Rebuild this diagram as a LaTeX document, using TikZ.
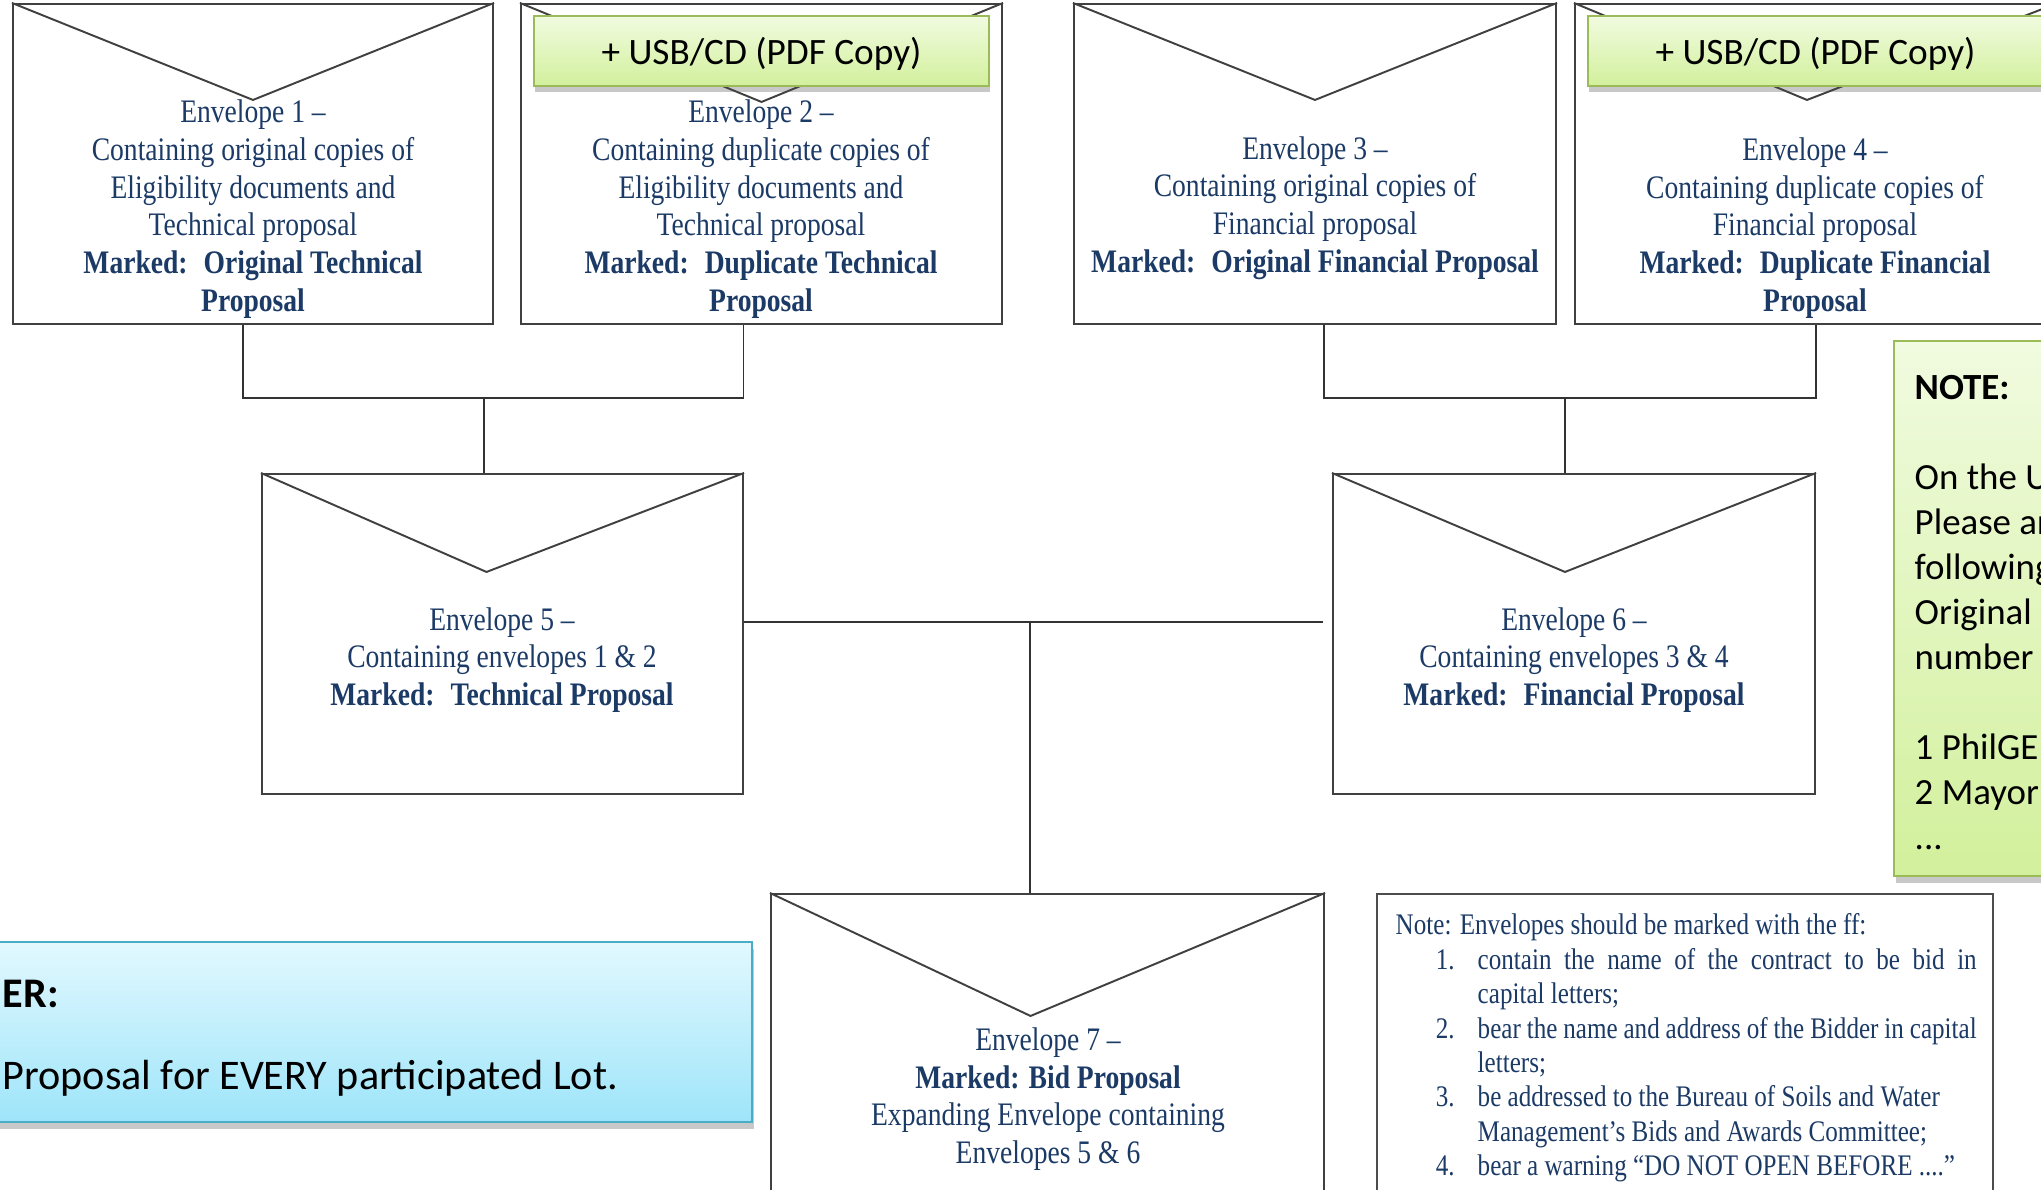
\documentclass[tikz,border=0pt]{standalone}
\usepackage{xcolor}
\usepackage{tikz}
\usepackage{fontspec}
\usetikzlibrary{calc,shadows}
\newfontfamily\envfont[FakeStretch=0.84]{Liberation Serif}
\newfontfamily\calfont{Carlito}
\definecolor{navy}{HTML}{1B3A66}
\definecolor{usbline}{HTML}{9BBB59}
\definecolor{usbtop}{HTML}{F1FBE0}
\definecolor{usbbot}{HTML}{D2F09C}
\definecolor{cyanline}{HTML}{4BACC6}
\definecolor{cyantop}{HTML}{E2F8FE}
\definecolor{cyanbot}{HTML}{9EE5FA}
% righe della nota numerate
\newcommand{\notenum}[2]{\hspace*{0.43cm}\makebox[0.16cm][r]{#1}\hspace{0.23cm}#2}
\newcommand{\notecont}[1]{\hspace*{0.82cm}#1}
\newcommand{\notejust}[1]{\makebox[4.99cm][s]{#1}}

\begin{document}
\begin{tikzpicture}[
        envbox/.style={draw=black!75, line width=0.6pt, minimum height=3.2cm, inner sep=0pt},
        flapline/.style={draw=black!75, line width=0.55pt},
        wire/.style={draw=black!80, line width=0.55pt},
        envtext/.style={text=navy, align=center, inner sep=0pt, font=\envfont\fontsize{9.34}{10.74}\selectfont},
        usbbox/.style={draw=usbline, line width=0.8pt, top color=usbtop, bottom color=usbbot,
            minimum width=4.55cm, minimum height=0.70cm, inner sep=0pt, text depth=0pt,
            font=\calfont\fontsize{10.6}{12.8}\selectfont,
            drop shadow={shadow xshift=0.01cm, shadow yshift=-0.06cm, opacity=0.3, fill=black!70}},
        greenbox/.style={draw=usbline, line width=0.8pt, top color=usbtop, bottom color=usbbot,
            inner sep=0pt,
            drop shadow={shadow xshift=0.02cm, shadow yshift=-0.07cm, opacity=0.3, fill=black!70}},
        cyanbox/.style={draw=cyanline, line width=0.8pt, top color=cyantop, bottom color=cyanbot,
            inner sep=0pt,
            drop shadow={shadow xshift=0.02cm, shadow yshift=-0.07cm, opacity=0.3, fill=black!70}},
    ]
        % Area del disegno
        \useasboundingbox (0,0) rectangle (20.41,-11.89);
        \fill[white] (0,0) rectangle (20.41,-11.89);
        \clip (0,0) rectangle (20.41,-11.89);

        % Buste in alto
        \node[envbox, minimum width=4.80cm] (env1) at (2.53,-1.64) {};
        \node[envbox, minimum width=4.81cm] (env2) at (7.615,-1.64) {};
        \node[envbox, minimum width=4.82cm] (env3) at (13.15,-1.64) {};
        \node[envbox, minimum width=4.82cm] (env4) at (18.16,-1.64) {};
        % Buste intermedie
        \node[envbox, minimum width=4.81cm] (env5) at (5.025,-6.34) {};
        \node[envbox, minimum width=4.82cm] (env6) at (15.74,-6.34) {};
        % Busta finale
        \node[envbox, minimum width=5.53cm] (env7) at (10.475,-10.54) {};

        % Linguette
        \draw[flapline] (env1.north west) -- ($(env1.north)+(0,-0.97)$) -- (env1.north east);
        \draw[flapline] (env2.north west) -- ($(env2.north)+(0,-0.99)$) -- (env2.north east);
        \draw[flapline] (env3.north west) -- ($(env3.north)+(0,-0.97)$) -- (env3.north east);
        \draw[flapline] (env4.north west) -- ($(env4.north)+(-0.09,-0.97)$) -- (env4.north east);
        \draw[flapline] (env5.north west) -- ($(env5.north)+(-0.16,-0.99)$) -- (env5.north east);
        \draw[flapline] (env6.north west) -- ($(env6.north)+(-0.09,-0.99)$) -- (env6.north east);
        \draw[flapline] (env7.north west) -- ($(env7.north)+(-0.17,-1.23)$) -- (env7.north east);

        % Copie su USB/CD
        \node[usbbox] (usb2) at (7.615,-0.51) {+ USB/CD (PDF Copy)};
        \node[usbbox] (usb4) at (18.155,-0.51) {+ USB/CD (PDF Copy)};

        % Collegamenti 1-2 verso 5
        \coordinate (bar12) at (4.84,-3.98);
        \draw[wire] ([xshift=-0.10cm]env1.south) |- (bar12) -| ([xshift=-0.18cm]env2.south);
        \draw[wire] (bar12) -- (bar12 |- env5.north);
        % Collegamenti 3-4 verso 6
        \coordinate (bar34) at (15.65,-3.98);
        \draw[wire] ([xshift=0.09cm]env3.south) |- (bar34) -| (env4.south);
        \draw[wire] (bar34) -- (bar34 |- env6.north);
        % Collegamenti 5-6 verso 7
        \coordinate (mid) at (10.30,-6.22);
        \draw[wire] (env5.east |- mid) -- ($(env6.west |- mid)+(-0.09,0)$);
        \draw[wire] (mid) -- (mid |- env7.north);

        % Testi delle buste
        \node[envtext] (txt1) at (2.53,-2.09) {Envelope 1 –\\Containing original copies of\\Eligibility documents and\\Technical proposal\\\textbf{Marked:~ Original Technical}\\\textbf{Proposal}};
        \node[envtext] (txt2) at (7.61,-2.09) {Envelope 2 –\\Containing duplicate copies of\\Eligibility documents and\\Technical proposal\\\textbf{Marked:~ Duplicate Technical}\\\textbf{Proposal}};
        \node[envtext] (txt3) at (13.15,-2.08) {Envelope 3 –\\Containing original copies of\\Financial proposal\\\textbf{Marked:~ Original Financial Proposal}};
        \node[envtext] (txt4) at (18.15,-2.28) {Envelope 4 –\\Containing duplicate copies of\\Financial proposal\\\textbf{Marked:~ Duplicate Financial}\\\textbf{Proposal}};
        \node[envtext] (txt5) at (5.02,-6.60) {Envelope 5 –\\Containing envelopes 1 \& 2\\\textbf{Marked:~ Technical Proposal}};
        \node[envtext] (txt6) at (15.74,-6.60) {Envelope 6 –\\Containing envelopes 3 \& 4\\\textbf{Marked:~ Financial Proposal}};
        \node[envtext] (txt7) at (10.48,-10.99) {Envelope 7 –\\\textbf{Marked: Bid Proposal}\\Expanding Envelope containing\\Envelopes 5 \& 6};

        % Nota sulle diciture
        \node[draw=black!70, line width=0.6pt, minimum width=6.16cm, minimum height=3.2cm] (marks) at (16.85,-10.54) {};
        \node[anchor=north west, align=left, inner sep=0pt, text=navy,
            font=\envfont\fontsize{8.5}{9.8}\selectfont] (markstxt) at (13.95,-9.13)
            {Note: Envelopes should be marked with the ff:\\
             \notenum{1.}{\notejust{contain the name of the contract to be bid in}}\\
             \notecont{capital letters;}\\
             \notenum{2.}{\notejust{bear the name and address of the Bidder in capital}}\\
             \notecont{letters;}\\
             \notenum{3.}{be addressed to the Bureau of Soils and Water}\\
             \notecont{Management’s Bids and Awards Committee;}\\
             \notenum{4.}{bear a warning “DO NOT OPEN BEFORE ....”}};

        % Riquadro verde a destra
        \node[greenbox, minimum width=1.70cm, minimum height=5.35cm] (note) at (19.79,-6.085) {};
        \node[anchor=north west, align=left, inner sep=0pt,
            font=\calfont\fontsize{10.5}{12.8}\selectfont] (notetxt) at (19.14,-3.75)
            {\textbf{NOTE:}\\[12.8pt]On the U\\Please ar\\following\\Original\\number\\[12.8pt]1 PhilGE\\2 Mayor\\...};

        % Riquadro azzurro a sinistra
        \node[cyanbox, minimum width=7.72cm, minimum height=1.80cm] (remind) at (3.66,-10.32) {};
        \node[anchor=north west, align=left, inner sep=0pt,
            font=\calfont\fontsize{12}{23.5}\selectfont] (remindtxt) at (0.02,-9.79)
            {\textbf{ER:}\\Proposal for EVERY participated Lot.};
    \end{tikzpicture}
\end{document}
